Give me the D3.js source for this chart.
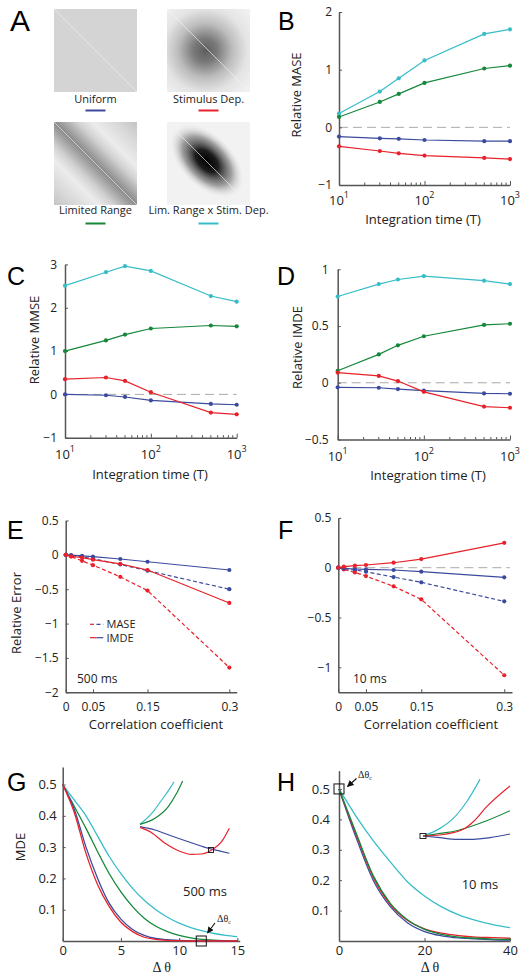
<!DOCTYPE html>
<html>
<head>
<meta charset="utf-8">
<script src="https://cdnjs.cloudflare.com/ajax/libs/d3/7.8.5/d3.min.js"></script>
<style>
  body { margin:0; background:#fff; }
  svg { display:block; font-family:"Open Sans", sans-serif; }
  .axis path, .axis line { stroke:#555; }
  .axis path { stroke-width:1.5; }
  .axis text { font-size:12px; fill:#222; font-family:"Open Sans", sans-serif; }
  .letter { font-family:"Liberation Sans", Arial, sans-serif; font-size:25px; fill:#000; }
  .title { font-size:13px; fill:#222; }
  .serif { font-family:"Liberation Serif", "DejaVu Serif", serif; fill:#222; }
</style>
</head>
<body>
<svg width="525" height="978"></svg>
<script>
// ---- data ----
var covNames = ["Uniform", "Stimulus Dep.", "Limited Range", "Lim. Range x Stim. Dep."];

var tInt = [10, 30, 50, 100, 500, 1000];
var maseUniform = [-0.16, -0.19, -0.20, -0.22, -0.24, -0.24];
var maseStim    = [-0.33, -0.41, -0.45, -0.49, -0.53, -0.55];
var maseLimited = [0.18, 0.44, 0.58, 0.77, 1.02, 1.07];
var maseLimStim = [0.24, 0.62, 0.85, 1.16, 1.62, 1.70];

var mmseUniform = [0.0, -0.02, -0.06, -0.14, -0.22, -0.24];
var mmseStim    = [0.35, 0.39, 0.31, 0.05, -0.42, -0.46];
var mmseLimited = [1.0, 1.245, 1.38, 1.52, 1.59, 1.57];
var mmseLimStim = [2.51, 2.82, 2.96, 2.85, 2.27, 2.14];

var imdeUniform = [-0.04, -0.044, -0.056, -0.07, -0.094, -0.097];
var imdeStim    = [0.09, 0.06, 0.015, -0.08, -0.21, -0.22];
var imdeLimited = [0.106, 0.25, 0.33, 0.41, 0.51, 0.52];
var imdeLimStim = [0.76, 0.87, 0.91, 0.94, 0.90, 0.87];

var rho = [0, 0.01, 0.03, 0.05, 0.1, 0.15, 0.3];
// 500 ms
var maseUniE = [0, -0.01, -0.03, -0.055, -0.14, -0.23, -0.50];
var imdeUniE = [0, -0.005, -0.015, -0.025, -0.06, -0.10, -0.22];
var maseStimE = [0, -0.025, -0.087, -0.15, -0.32, -0.52, -1.64];
var imdeStimE = [0, -0.02, -0.04, -0.07, -0.13, -0.22, -0.70];
// 10 ms
var maseUniF = [0, -0.01, -0.023, -0.04, -0.094, -0.147, -0.338];
var imdeUniF = [0, -0.007, -0.013, -0.017, -0.023, -0.04, -0.097];
var maseStimF = [0, -0.017, -0.047, -0.084, -0.187, -0.318, -1.08];
var imdeStimF = [0, 0.01, 0.02, 0.027, 0.05, 0.087, 0.25];

// MDE vs delta theta, 500 ms
var dthG = [0, 1, 2, 3, 4, 5, 6, 7, 8, 9, 10, 11, 12, 13, 14, 15];
var mdeUniG  = [0.5, 0.42, 0.30, 0.20, 0.12, 0.07, 0.037, 0.018, 0.008, 0.004, 0.002, 0.001, 0, 0, 0, 0];
var mdeStimG = [0.5, 0.41, 0.28, 0.18, 0.11, 0.06, 0.03, 0.012, 0.005, 0.002, 0.001, 0, 0, 0, 0, 0];
var mdeLimG  = [0.5, 0.43, 0.36, 0.285, 0.215, 0.157, 0.11, 0.073, 0.047, 0.03, 0.018, 0.01, 0.005, 0.003, 0.001, 0];
var mdeLSG   = [0.5, 0.45, 0.40, 0.335, 0.27, 0.215, 0.168, 0.13, 0.10, 0.076, 0.057, 0.043, 0.032, 0.024, 0.018, 0.014];
var dthcG = 11.9;

// MDE vs delta theta, 10 ms
var dthH = [0, 4, 8, 12, 16, 20, 24, 28, 32, 36, 40];
var mdeUniH  = [0.5, 0.34, 0.2, 0.113, 0.06, 0.031, 0.017, 0.01, 0.007, 0.004, 0.003];
var mdeStimH = [0.5, 0.35, 0.21, 0.12, 0.068, 0.04, 0.026, 0.018, 0.013, 0.011, 0.009];
var mdeLimH  = [0.5, 0.355, 0.215, 0.124, 0.07, 0.038, 0.022, 0.013, 0.009, 0.006, 0.005];
var mdeLSH   = [0.5, 0.41, 0.33, 0.26, 0.195, 0.148, 0.112, 0.086, 0.068, 0.054, 0.044];
var dthcH = 0;

// insets (normalised zoom coordinates)
var insGCyan  = [[0,0.417],[0.13,0.56],[0.241,0.737],[0.333,0.89],[0.378,0.977]];
var insGGreen = [[0,0.417],[0.167,0.496],[0.314,0.649],[0.407,0.825],[0.474,0.987]];
var insGBlue  = [[0,0.386],[0.167,0.342],[0.352,0.263],[0.537,0.188],[0.722,0.114],[0.87,0.07],[0.993,0.035]];
var insGRed   = [[0,0.377],[0.13,0.307],[0.278,0.167],[0.426,0.07],[0.574,0.022],[0.685,0.026],[0.796,0.079],[0.907,0.188],[0.993,0.364]];
var insGMark  = [0.789, 0.079];

var insHCyan  = [[0,0.134],[0.195,0.248],[0.348,0.397],[0.502,0.645],[0.655,0.98]];
var insHRed   = [[0,0.134],[0.195,0.149],[0.348,0.184],[0.463,0.234],[0.578,0.348],[0.732,0.572],[1,0.881]];
var insHGreen = [[0,0.134],[0.195,0.174],[0.387,0.213],[0.54,0.273],[0.732,0.362],[1,0.512]];
var insHBlue  = [[0,0.134],[0.195,0.109],[0.387,0.085],[0.578,0.085],[0.77,0.109],[1,0.164]];
var insHMark  = [0, 0.134];

var logMinor = [20, 30, 40, 50, 60, 70, 80, 90, 200, 300, 400, 500, 600, 700, 800, 900];

// ---- drawing ----
var svg = d3.select("svg");
var col = {uniform:"#3b4a9e", stim:"#e8212a", limited:"#15873b", limstim:"#37bdc7"};
var minus = function(d) { return d < 0 ? "\u2212" + Math.abs(d) : "" + d; };

function letter(t, x, y, size) {
  svg.append("text").attr("class", "letter").attr("x", x).attr("y", y)
    .style("font-size", (size || 25) + "px").text(t);
}

function yAxis(y, x0, ticks, pad, fs) {
  var g = svg.append("g").attr("class", "axis").attr("transform", "translate(" + x0 + ",0)")
    .call(d3.axisLeft(y).tickValues(ticks).tickFormat(minus).tickSize(-3).tickSizeOuter(0).tickPadding(pad));
  if (fs) g.selectAll("text").style("font-size", fs + "px");
  return g;
}

function xAxis(x, y0, ticks, pad, fs) {
  var g = svg.append("g").attr("class", "axis").attr("transform", "translate(0," + y0 + ")")
    .call(d3.axisBottom(x).tickValues(ticks).tickFormat(minus).tickSize(-3).tickSizeOuter(0).tickPadding(pad));
  if (fs) g.selectAll("text").style("font-size", fs + "px");
  return g;
}

function logXAxis(x, y0, base) {
  var g = svg.append("g").attr("class", "axis").attr("transform", "translate(0," + y0 + ")")
    .call(d3.axisBottom(x).tickValues([10, 100, 1000]).tickFormat("").tickSize(-4).tickSizeOuter(0));
  g.selectAll("line.minor").data(logMinor).join("line").attr("class", "minor")
    .attr("x1", x).attr("x2", x).attr("y1", 0).attr("y2", -2.5);
  var t = g.selectAll("text.lab").data([1, 2, 3]).join("text").attr("class", "lab")
    .attr("x", function(d) { return x(Math.pow(10, d)); }).attr("y", base - y0)
    .attr("text-anchor", "middle").style("font-size", "13px");
  t.append("tspan").text("10");
  t.append("tspan").attr("dy", -7).style("font-size", "9px").text(function(d) { return d; });
}

function title(t, x, y, rot) {
  svg.append("text").attr("class", "title").attr("text-anchor", "middle")
    .attr("transform", "translate(" + x + "," + y + ")" + (rot ? " rotate(-90)" : ""))
    .text(t);
}

function series(x, y, xs, ys, color, dash) {
  var pts = xs.map(function(v, i) { return [v, ys[i]]; });
  svg.append("path").datum(pts).attr("fill", "none").attr("stroke", color)
    .attr("stroke-width", 1.2).attr("stroke-dasharray", dash || null)
    .attr("d", d3.line().x(function(d) { return x(d[0]); }).y(function(d) { return y(d[1]); }));
  svg.append("g").selectAll("circle").data(pts).join("circle")
    .attr("cx", function(d) { return x(d[0]); }).attr("cy", function(d) { return y(d[1]); })
    .attr("r", 2.1).attr("fill", color);
}

function curve(x, y, pts, color, w) {
  svg.append("path").datum(pts).attr("fill", "none").attr("stroke", color)
    .attr("stroke-width", w || 1.3)
    .attr("d", d3.line().curve(d3.curveMonotoneX)
      .x(function(d) { return x(d[0]); }).y(function(d) { return y(d[1]); }));
}

function zip(xs, ys) { return xs.map(function(v, i) { return [v, ys[i]]; }); }

function zeroLine(x0, x1, yy) {
  svg.append("line").attr("x1", x0).attr("x2", x1).attr("y1", yy).attr("y2", yy)
    .attr("stroke", "#aaa").attr("stroke-width", 1).attr("stroke-dasharray", "9,5");
}

// ---- A: covariance structures ----
var defs = svg.append("defs");
var rg = defs.append("radialGradient").attr("id", "gStim").attr("cx", 0.46).attr("cy", 0.5).attr("r", 0.72);
[[0, "#5e5e5e"], [0.2, "#7a7a7a"], [0.45, "#bcbcbc"], [0.7, "#e4e4e4"], [1, "#f2f2f2"]].forEach(function(s) {
  rg.append("stop").attr("offset", s[0]).attr("stop-color", s[1]);
});
var lg = defs.append("linearGradient").attr("id", "gLim").attr("x1", 0).attr("y1", 1).attr("x2", 1).attr("y2", 0);
[[0, "#c4c4c4"], [0.14, "#dadada"], [0.27, "#ececec"], [0.36, "#d2d2d2"], [0.44, "#a8a8a8"], [0.5, "#8c8c8c"],
 [0.56, "#a8a8a8"], [0.64, "#d2d2d2"], [0.73, "#ececec"], [0.86, "#dadada"], [1, "#c4c4c4"]].forEach(function(s) {
  lg.append("stop").attr("offset", s[0]).attr("stop-color", s[1]);
});
var eg = defs.append("radialGradient").attr("id", "gLS");
[[0, "#000", 1], [0.3, "#111", 0.95], [0.65, "#666", 0.6], [1, "#f3f3f3", 0]].forEach(function(s) {
  eg.append("stop").attr("offset", s[0]).attr("stop-color", s[1]).attr("stop-opacity", s[2]);
});

var boxPos = [[54, 9], [167, 9], [54, 122], [167, 122]];
var boxCol = [col.uniform, col.stim, col.limited, col.limstim];
var bs = 83;
covNames.forEach(function(name, i) {
  var bx = boxPos[i][0], by = boxPos[i][1];
  defs.append("clipPath").attr("id", "clip" + i).append("rect")
    .attr("x", bx).attr("y", by).attr("width", bs).attr("height", bs);
  var g = svg.append("g").attr("clip-path", "url(#clip" + i + ")");
  var fill = ["#d4d4d4", "url(#gStim)", "url(#gLim)", "#f2f2f2"][i];
  g.append("rect").attr("x", bx).attr("y", by).attr("width", bs).attr("height", bs).attr("fill", fill);
  if (i === 3) {
    g.append("ellipse").attr("cx", bx + bs * 0.48).attr("cy", by + bs * 0.47)
      .attr("rx", 46).attr("ry", 27).attr("fill", "url(#gLS)")
      .attr("transform", "rotate(45," + (bx + bs * 0.48) + "," + (by + bs * 0.47) + ")");
  }
  g.append("line").attr("x1", bx).attr("y1", by).attr("x2", bx + bs).attr("y2", by + bs)
    .attr("stroke", "#f4f4f4").attr("stroke-width", 0.8).attr("opacity", 0.8);
  svg.append("text").attr("x", bx + bs / 2).attr("y", by + (i < 2 ? 94 : 92))
    .attr("text-anchor", "middle").style("font-size", "11px").attr("fill", "#222").text(name);
  svg.append("line").attr("x1", bx + bs / 2 - 10).attr("x2", bx + bs / 2 + 10)
    .attr("y1", by + 101.5).attr("y2", by + 101.5).attr("stroke", boxCol[i]).attr("stroke-width", 2);
});
letter("A", 10, 31, 30);

// ---- B: MASE ----
var xB = d3.scaleLog().domain([10, 1000]).range([339, 510]);
var yB = d3.scaleLinear().domain([-1, 2]).range([185, 12]);
zeroLine(339, 510, yB(0));
yAxis(yB, 339, [-1, 0, 1, 2], 7);
logXAxis(xB, 185, 204.5);
series(xB, yB, tInt, maseLimStim, col.limstim);
series(xB, yB, tInt, maseLimited, col.limited);
series(xB, yB, tInt, maseUniform, col.uniform);
series(xB, yB, tInt, maseStim, col.stim);
title("Relative MASE", 301, 95, true);
title("Integration time (T)", 423, 224);
letter("B", 278, 30);

// ---- C: MMSE ----
var xC = d3.scaleLog().domain([10, 1000]).range([65, 236.7]);
var yC = d3.scaleLinear().domain([-1, 3]).range([437.7, 264.4]);
zeroLine(65, 236.7, yC(0));
yAxis(yC, 65, [-1, 0, 1, 2, 3], 8);
logXAxis(xC, 437.7, 459.5);
series(xC, yC, tInt, mmseLimStim, col.limstim);
series(xC, yC, tInt, mmseLimited, col.limited);
series(xC, yC, tInt, mmseUniform, col.uniform);
series(xC, yC, tInt, mmseStim, col.stim);
title("Relative MMSE", 39, 340, true);
title("Integration time (T)", 150, 479);
letter("C", 7, 285);

// ---- D: IMDE ----
var xD = d3.scaleLog().domain([10, 1000]).range([337.7, 510]);
var yD = d3.scaleLinear().domain([-0.5, 1]).range([439.5, 269.3]);
zeroLine(337.7, 510, yD(0));
yAxis(yD, 337.7, [-0.5, 0, 0.5, 1], 9);
logXAxis(xD, 439.5, 460.5);
series(xD, yD, tInt, imdeLimStim, col.limstim);
series(xD, yD, tInt, imdeLimited, col.limited);
series(xD, yD, tInt, imdeUniform, col.uniform);
series(xD, yD, tInt, imdeStim, col.stim);
title("Relative IMDE", 302, 347.5, true);
title("Integration time (T)", 428, 479.5);
letter("D", 277, 285);

// ---- E: correlations, 500 ms ----
var xE = d3.scaleLinear().domain([0, 0.3135]).range([65.7, 236.7]);
var yE = d3.scaleLinear().domain([-2, 0.5]).range([692.3, 520.5]);
yAxis(yE, 65.7, [-2, -1.5, -1, -0.5, 0, 0.5], 7);
xAxis(xE, 692.3, [0, 0.05, 0.15, 0.3], 10);
series(xE, yE, rho, maseUniE, col.uniform, "4,2.5");
series(xE, yE, rho, maseStimE, col.stim, "4,2.5");
series(xE, yE, rho, imdeUniE, col.uniform);
series(xE, yE, rho, imdeStimE, col.stim);
// legend
[["MASE", "4,2.5", 624.3], ["IMDE", null, 637.7]].forEach(function(l) {
  svg.append("line").attr("x1", 90).attr("x2", 96.5).attr("y1", l[2]).attr("y2", l[2])
    .attr("stroke", col.stim).attr("stroke-width", 1.2).attr("stroke-dasharray", l[1]);
  svg.append("line").attr("x1", 96.5).attr("x2", 103.3).attr("y1", l[2]).attr("y2", l[2])
    .attr("stroke", col.uniform).attr("stroke-width", 1.2).attr("stroke-dasharray", l[1]);
  svg.append("text").attr("x", 106.5).attr("y", l[2] + 4).style("font-size", "11px")
    .attr("fill", "#222").text(l[0]);
});
svg.append("text").attr("x", 77).attr("y", 683).style("font-size", "12px").attr("fill", "#222").text("500 ms");
title("Relative Error", 21, 613, true);
title("Correlation coefficient", 156, 729);
letter("E", 7, 539);

// ---- F: correlations, 10 ms ----
var xF = d3.scaleLinear().domain([0, 0.314]).range([338.3, 512]);
var yF = d3.scaleLinear().domain([-1.25, 0.5]).range([692.2, 517.9]);
zeroLine(338.3, 510, yF(0));
yAxis(yF, 338.3, [-1, -0.5, 0, 0.5], 7);
xAxis(xF, 692.2, [0, 0.05, 0.15, 0.3], 10);
series(xF, yF, rho, maseUniF, col.uniform, "4,2.5");
series(xF, yF, rho, maseStimF, col.stim, "4,2.5");
series(xF, yF, rho, imdeUniF, col.uniform);
series(xF, yF, rho, imdeStimF, col.stim);
svg.append("text").attr("x", 353).attr("y", 683).style("font-size", "12px").attr("fill", "#222").text("10 ms");
title("Correlation coefficient", 431, 729);
letter("F", 278, 539);

// ---- G: MDE, 500 ms ----
var xG = d3.scaleLinear().domain([0, 15.2]).range([62.7, 239.7]);
var yG = d3.scaleLinear().domain([0, 0.556]).range([941, 767]);
yAxis(yG, 62.7, [0.1, 0.2, 0.3, 0.4, 0.5], 6, 13);
xAxis(xG, 941, [0, 5, 10, 15], 5, 13);
curve(xG, yG, zip(dthG, mdeLSG), col.limstim);
curve(xG, yG, zip(dthG, mdeLimG), col.limited);
curve(xG, yG, zip(dthG, mdeUniG), col.uniform);
curve(xG, yG, zip(dthG, mdeStimG), col.stim);
var ixG = d3.scaleLinear().domain([0, 1]).range([140, 230]);
var iyG = d3.scaleLinear().domain([0, 1]).range([856, 780]);
curve(ixG, iyG, insGCyan, col.limstim, 1.2);
curve(ixG, iyG, insGGreen, col.limited, 1.2);
curve(ixG, iyG, insGBlue, col.uniform, 1.2);
curve(ixG, iyG, insGRed, col.stim, 1.2);
svg.append("rect").attr("x", ixG(insGMark[0]) - 2.5).attr("y", iyG(insGMark[1]) - 2.5)
  .attr("width", 5).attr("height", 5).attr("fill", "none").attr("stroke", "#111").attr("stroke-width", 0.9);
svg.append("rect").attr("x", xG(dthcG) - 5).attr("y", yG(0) - 5).attr("width", 10).attr("height", 10)
  .attr("fill", "none").attr("stroke", "#111").attr("stroke-width", 1);
svg.append("text").attr("x", 183).attr("y", 896).style("font-size", "13px").attr("fill", "#222").text("500 ms");
title("MDE", 25, 847, true);

// arrow marker
defs.append("marker").attr("id", "arr").attr("viewBox", "0 0 10 10").attr("refX", 9).attr("refY", 5)
  .attr("markerWidth", 6).attr("markerHeight", 6).attr("orient", "auto")
  .append("path").attr("d", "M0,0 L10,5 L0,10 z").attr("fill", "#111");
function dtc(x, y, ax1, ay1, ax2, ay2) {
  var t = svg.append("text").attr("class", "serif").attr("x", x).attr("y", y).style("font-size", "10px");
  t.append("tspan").text("\u0394\u03b8");
  t.append("tspan").attr("dy", 2).style("font-size", "6px").text("c");
  svg.append("line").attr("x1", ax1).attr("y1", ay1).attr("x2", ax2).attr("y2", ay2)
    .attr("stroke", "#111").attr("stroke-width", 1.1).attr("marker-end", "url(#arr)");
}
dtc(217, 922, 215, 923, 207.5, 933);
svg.append("text").attr("class", "serif").attr("x", 161.7).attr("y", 972).attr("text-anchor", "middle")
  .style("font-size", "14px").text("\u0394 \u03b8");
letter("G", 7, 791);

// ---- H: MDE, 10 ms ----
var xH = d3.scaleLinear().domain([0, 40]).range([339, 510]);
var yH = d3.scaleLinear().domain([0, 0.56]).range([941, 770.7]);
yAxis(yH, 339, [0.1, 0.2, 0.3, 0.4, 0.5], 9, 13);
xAxis(xH, 941, [0, 20, 40], 5, 13);
curve(xH, yH, zip(dthH, mdeLSH), col.limstim);
curve(xH, yH, zip(dthH, mdeUniH), col.uniform);
curve(xH, yH, zip(dthH, mdeStimH), col.stim);
curve(xH, yH, zip(dthH, mdeLimH), col.limited);
var ixH = d3.scaleLinear().domain([0, 1]).range([423, 510]);
var iyH = d3.scaleLinear().domain([0, 1]).range([845, 778]);
curve(ixH, iyH, insHCyan, col.limstim, 1.2);
curve(ixH, iyH, insHBlue, col.uniform, 1.2);
curve(ixH, iyH, insHGreen, col.limited, 1.2);
curve(ixH, iyH, insHRed, col.stim, 1.2);
svg.append("rect").attr("x", ixH(insHMark[0]) - 3).attr("y", iyH(insHMark[1]) - 2.5)
  .attr("width", 6).attr("height", 5).attr("fill", "none").attr("stroke", "#111").attr("stroke-width", 0.9);
svg.append("rect").attr("x", xH(dthcH) - 5).attr("y", yH(0.5) - 5).attr("width", 10).attr("height", 10)
  .attr("fill", "none").attr("stroke", "#111").attr("stroke-width", 1);
svg.append("text").attr("x", 461.7).attr("y", 889).style("font-size", "13px").attr("fill", "#222").text("10 ms");
dtc(358, 778, 356.5, 778.5, 347.5, 786.5);
svg.append("text").attr("class", "serif").attr("x", 430).attr("y", 972).attr("text-anchor", "middle")
  .style("font-size", "14px").text("\u0394 \u03b8");
letter("H", 277, 791);
</script>
</body>
</html>
